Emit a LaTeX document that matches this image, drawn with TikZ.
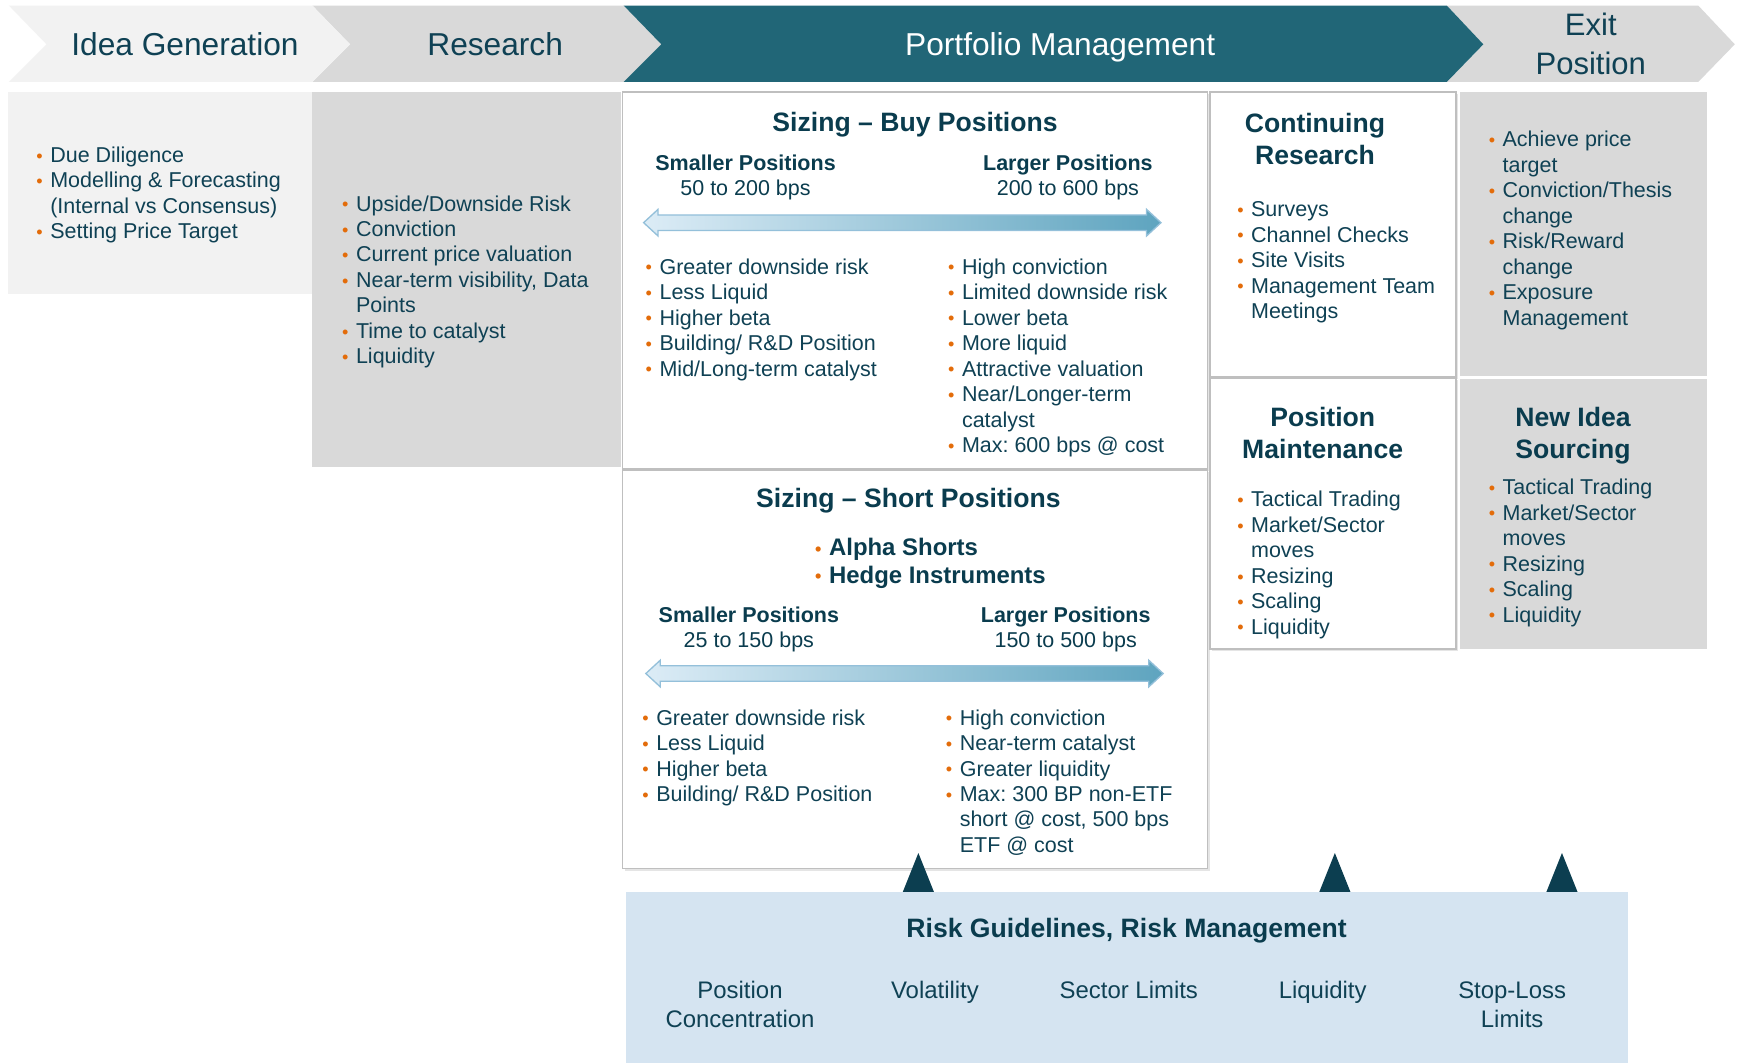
\documentclass[tikz,border=0pt]{standalone}
\usepackage{fontspec}
\setmainfont{Liberation Sans}
\definecolor{tealhead}{HTML}{216677}
\definecolor{txt}{HTML}{0F4154}
\definecolor{ttl}{HTML}{0A3C4E}
\definecolor{orb}{HTML}{E36C0A}
\definecolor{lgA}{HTML}{F2F2F2}
\definecolor{lgB}{HTML}{D9D9D9}
\definecolor{bord}{HTML}{BFBFBF}
\definecolor{riskbg}{HTML}{D5E4F1}
\definecolor{arrL}{HTML}{DCECF6}
\definecolor{arrR}{HTML}{5EA4BF}
\definecolor{arrO}{HTML}{94C0DA}
\definecolor{tri}{HTML}{0C3E50}
\newcommand\bu{\strut\makebox[6.25pt][l]{\textcolor{orb}{\fontsize{8.2}{8}\selectfont\raisebox{0.1pt}{•}}}}
\newcommand\ct{\strut\hspace*{6.25pt}}
\newcommand\dblarrow[3]{%
  \shadedraw[left color=arrL, right color=arrR, draw=arrO, line width=0.6pt]
    (#1,#3) -- (#1+13,#3-12) -- (#1+13,#3-7) -- (#2-13,#3-7) -- (#2-13,#3-12)
    -- (#2,#3) -- (#2-13,#3+12) -- (#2-13,#3+7) -- (#1+13,#3+7) -- (#1+13,#3+12) -- cycle;}
\tikzset{
  lst/.style={anchor=north west, inner sep=0pt, align=left, text=txt, font=\fontsize{9.7}{11.5}\selectfont},
  ttlb/.style={inner sep=0pt, text=ttl, align=center, font=\bfseries\fontsize{12}{14.5}\selectfont},
  subh/.style={anchor=north, inner sep=0pt, text=ttl, align=center, font=\fontsize{9.7}{11.5}\selectfont},
  chevtxt/.style={anchor=base, inner sep=0pt, text=txt, font=\fontsize{14.3}{17.5}\selectfont},
  riskitem/.style={anchor=north, inner sep=0pt, text=txt, align=center, font=\fontsize{10.8}{13}\selectfont},
  whitebox/.style={fill=white, draw=bord, line width=0.8pt},
  shadowbox/.style={fill=black!10},
}
\frenchspacing
\begin{document}
\frenchspacing
\begin{tikzpicture}[x=0.5pt,y=-0.5pt]
\useasboundingbox (0,0) rectangle (1568,959);
\fill[white] (0,0) rectangle (1568,959);

% ---- chevrons
\fill[lgB] (282,5) -- (563,5) -- (597,40) -- (563,74) -- (282,74) -- (316,40) -- cycle;
\fill[lgA] (8,5) -- (282,5) -- (316,40) -- (282,74) -- (8,74) -- (42,40) -- cycle;
\fill[lgB] (1306,5) -- (1533,5) -- (1566,40) -- (1533,74) -- (1306,74) -- (1339,40) -- cycle;
\fill[tealhead] (563,5) -- (1306,5) -- (1339,40) -- (1306,74) -- (563,74) -- (597,40) -- cycle;

\node[chevtxt] (hidea) at (167,50) {Idea Generation};
\node[chevtxt] (hres) at (447,50) {Research};
\node[chevtxt, text=white] (hpm) at (957,50) {Portfolio Management};
\node[chevtxt, anchor=north, align=center, font=\fontsize{14}{17.5}\selectfont] (hexit) at (1436,7.5) {\strut Exit\\Position};

% ---- boxes
\fill[lgA] (7,83) rectangle (282,265);
\fill[lgB] (282,83) rectangle (561,422);
\fill[lgB] (1318,83) rectangle (1541,339);
\fill[lgB] (1318,342) rectangle (1541,586);
\fill[shadowbox] (564,85) rectangle (1092,425);
\fill[shadowbox] (564,426) rectangle (1092,786);
\fill[shadowbox] (1094,85) rectangle (1316,342);
\fill[shadowbox] (1094,343) rectangle (1316,588);
\draw[whitebox] (562,83) rectangle (1090,423);
\draw[whitebox] (562,424) rectangle (1090,784);
\draw[whitebox] (1092,83) rectangle (1314,340);
\draw[whitebox] (1092,341) rectangle (1314,586);
\fill[riskbg] (565,805) rectangle (1470,960);

% ---- triangles
\fill[tri] (815,805) -- (829,770) -- (843,805) -- cycle;
\fill[tri] (1191,805) -- (1205,770) -- (1219,805) -- cycle;
\fill[tri] (1396,805) -- (1410,770) -- (1424,805) -- cycle;

% ---- idea generation / research
\node[lst] (idealist) at (32.5,130) {\bu Due Diligence\\\bu Modelling \& Forecasting\\\ct (Internal vs Consensus)\\\bu Setting Price Target};
\node[lst] (reslist) at (308.5,174) {\bu Upside/Downside Risk\\\bu Conviction\\\bu Current price valuation\\\bu Near-term visibility, Data\\\ct Points\\\bu Time to catalyst\\\bu Liquidity};

% ---- sizing buy
\node[ttlb, anchor=base] (buyttl) at (826,119) {Sizing – Buy Positions};
\node[subh] (buysm) at (673,137) {\strut\textbf{Smaller Positions}\\50 to 200 bps};
\node[subh] (buylg) at (964,137) {\strut\textbf{Larger Positions}\\200 to 600 bps};
\dblarrow{581}{1048}{201}
\node[lst] (buyL) at (582.5,231) {\bu Greater downside risk\\\bu Less Liquid\\\bu Higher beta\\\bu Building/ R\&D Position\\\bu Mid/Long-term catalyst};
\node[lst] (buyR) at (855.5,231) {\bu High conviction\\\bu Limited downside risk\\\bu Lower beta\\\bu More liquid\\\bu Attractive valuation\\\bu Near/Longer-term\\\ct catalyst\\\bu Max: 600 bps @ cost};

% ---- sizing short
\node[ttlb, anchor=base] (shttl) at (820,458) {Sizing – Short Positions};
\node[lst, text=ttl, font=\bfseries\fontsize{10.8}{12.5}\selectfont] (alpha) at (735.5,483.5) {\bu Alpha Shorts\\\bu Hedge Instruments};
\node[subh] (shsm) at (676,545) {\strut\textbf{Smaller Positions}\\25 to 150 bps};
\node[subh] (shlg) at (962,545) {\strut\textbf{Larger Positions}\\150 to 500 bps};
\dblarrow{583}{1050}{608}
\node[lst] (shL) at (579.5,638) {\bu Greater downside risk\\\bu Less Liquid\\\bu Higher beta\\\bu Building/ R\&D Position};
\node[lst] (shR) at (853.5,638) {\bu High conviction\\\bu Near-term catalyst\\\bu Greater liquidity\\\bu Max: 300 BP non-ETF\\\ct short @ cost, 500 bps\\\ct ETF @ cost};

% ---- continuing research / position maintenance
\node[ttlb, anchor=north] (crttl) at (1187,99) {\strut Continuing\\Research};
\node[lst] (crlist) at (1116.5,179) {\bu Surveys\\\bu Channel Checks\\\bu Site Visits\\\bu Management Team\\\ct Meetings};
\node[ttlb, anchor=north] (pmttl) at (1194,364) {\strut Position\\Maintenance};
\node[lst] (pmlist) at (1116.5,441) {\bu Tactical Trading\\\bu Market/Sector\\\ct moves\\\bu Resizing\\\bu Scaling\\\bu Liquidity};

% ---- exit / new idea sourcing
\node[lst] (exitlist) at (1343.5,116) {\bu Achieve price\\\ct target\\\bu Conviction/Thesis\\\ct change\\\bu Risk/Reward\\\ct change\\\bu Exposure\\\ct Management};
\node[ttlb, anchor=north] (nisttl) at (1420,364) {\strut New Idea\\Sourcing};
\node[lst] (nislist) at (1343.5,430) {\bu Tactical Trading\\\bu Market/Sector\\\ct moves\\\bu Resizing\\\bu Scaling\\\bu Liquidity};

% ---- risk
\node[ttlb, anchor=base] (riskttl) at (1017,846) {Risk Guidelines, Risk Management};
\node[riskitem] (r1) at (668,883) {\strut Position\\Concentration};
\node[riskitem] (r2) at (844,883) {\strut Volatility};
\node[riskitem] (r3) at (1019,883) {\strut Sector Limits};
\node[riskitem] (r4) at (1194,883) {\strut Liquidity};
\node[riskitem] (r5) at (1365,883) {\strut Stop-Loss\\Limits};
\end{tikzpicture}
\end{document}
